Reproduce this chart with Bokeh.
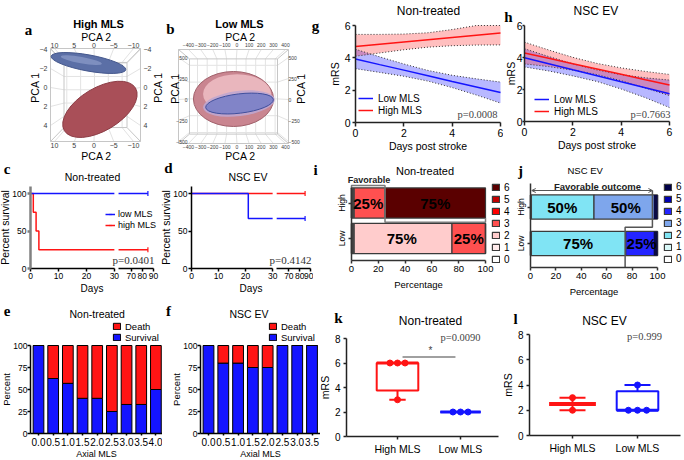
import math
from collections import Counter
import numpy as np
from bokeh.plotting import figure
from bokeh.layouts import column, row
from bokeh.models import (Range1d, LinearAxis, FixedTicker, Label, Legend, LegendItem,
                          ColumnDataSource, Arrow, OpenHead)
from bokeh.embed import file_html
from bokeh.resources import INLINE
from bokeh.core.properties import value

SANS = "Liberation Sans"
SERIF = "Liberation Serif"
NARROW = "Liberation Sans Narrow, Liberation Sans"

# ---------------- data ----------------
# a: PCA ellipsoids, High MLS  [blue group, red group]
a_xticks = [10, 5, 0, -5, -10]
a_yticks = [-4, -2, 0, 2, 4]
a_cx = [1.4, -1.5]
a_cy = [-2.58, 2.3]
a_w = [19.2, 21.0]
a_h = [1.7, 4.5]
a_ang = [-0.18, 0.54]
# b: PCA ellipsoids, Low MLS  [red group, blue group]
b_xticks = [-400, -300, -200, -100, 0, 100, 200, 300, 400]
b_yticks = [-500, -250, 0, 250, 500]
b_cx = [-29, 21]
b_cy = [6, -48]
b_w = [661, 562]
b_h = [655, 230]
b_ang = [0.0, 0.12]

# c, d: Kaplan-Meier survival (percent)
km_ticks = [0, 10, 20, 30, 70, 80, 90]
c_low_days = [0, 85]
c_low_surv = [100, 100]
c_high_days = [0, 1, 2, 3, 85]
c_high_surv = [100, 75, 50, 25, 25]
d_low_days = [0, 21, 85]
d_low_surv = [100, 66.7, 66.7]
d_high_days = [0, 85]
d_high_surv = [100, 100]

# e, f: percent survival by axial MLS
e_mls = ["0.0", "0.5", "1.0", "1.5", "2.0", "2.5", "3.0", "3.5", "4.0"]
e_surv = [100, 62.5, 57, 40, 40, 25, 33, 33, 50]
f_mls = ["0.0", "0.5", "1.0", "1.5", "2.0", "2.5", "3.0", "3.5"]
f_surv = [100, 80, 80, 75, 75, 100, 100, 100]

# g, h: mRS regression lines with 95% bands (visible part)
days = [0, 1, 2, 3, 4, 5, 6]
g_low = [3.93, 3.58, 3.24, 2.89, 2.54, 2.20, 1.85]
g_low_up = [4.53, 4.06, 3.62, 3.22, 2.92, 2.70, 2.50]
g_low_lo = [3.33, 3.10, 2.86, 2.56, 2.16, 1.70, 1.20]
g_high = [4.70, 4.84, 4.98, 5.12, 5.26, 5.40, 5.53]
g_high_up = [5.45, 5.45, 5.47, 5.55, 5.75, 6.0, 6.0]
g_high_lo = [4.10, 4.30, 4.50, 4.66, 4.75, 4.79, 4.80]
h_low = [3.98, 3.61, 3.23, 2.86, 2.48, 2.11, 1.73]
h_low_up = [4.55, 4.06, 3.61, 3.22, 2.93, 2.73, 2.59]
h_low_lo = [3.41, 3.16, 2.85, 2.50, 2.03, 1.49, 0.87]
h_high = [4.28, 3.95, 3.61, 3.28, 2.95, 2.61, 2.28]
h_high_up = [4.96, 4.47, 4.01, 3.63, 3.35, 3.13, 2.94]
h_high_lo = [3.60, 3.43, 3.21, 2.93, 2.55, 2.09, 1.62]

# i, j: mRS distribution (percent for mRS 0..6)
mrs_levels = ["0", "1", "2", "3", "4", "5", "6"]
i_high = [0, 0, 0, 25, 0, 0, 75]
i_low = [0, 0, 75, 25, 0, 0, 0]
j_high = [0, 0, 50, 50, 0, 0, 0]
j_low = [0, 0, 75, 0, 25, 0, 0]
i_colors = ["#ffffff", "#ffecec", "#ffcccc", "#ff5050", "#ff0000", "#c00000", "#5a0000"]
j_colors = ["#ffffff", "#d8f8f8", "#80e4f4", "#7ea6ec", "#2424ff", "#0000b0", "#000048"]

# k, l: mRS values per group
k_high = [6, 6, 6, 3]
k_low = [2, 2, 2]
l_high = [3, 2]
l_low = [2, 2, 2, 4]

BLUE = "#1414ff"
RED = "#ff1414"


# ---------------- layout helpers ----------------
class Panel:
    """Maps reference-picture pixel positions to this figure's data space."""

    def __init__(self, offx, offy, W, H, xa, ya):
        self.offx, self.offy, self.W, self.H = offx, offy, W, H
        d1, r1, d2, r2 = xa
        p1, p2 = self.px(r1), self.px(r2)
        self.kx = (d2 - d1) / (p2 - p1)
        self.x0 = d1 - p1 * self.kx
        d1, r1, d2, r2 = ya
        q1, q2 = self.py(r1), self.py(r2)
        self.ky = (d2 - d1) / (q2 - q1)
        self.y0 = d1 - q1 * self.ky

    def px(self, xref):
        return xref - self.offx

    def py(self, yref):
        return yref - self.offy

    def dx(self, xref):
        return self.x0 + self.px(xref) * self.kx

    def dy(self, yref):
        return self.y0 + self.py(yref) * self.ky

    def fig(self):
        p = figure(width=self.W, height=self.H,
                   x_range=Range1d(self.x0, self.x0 + self.W * self.kx),
                   y_range=Range1d(self.y0 + self.H * self.ky, self.y0),
                   output_backend="svg", toolbar_location=None,
                   x_axis_type=None, y_axis_type=None, min_border=0)
        p.outline_line_color = None
        p.background_fill_color = "white"
        p.border_fill_color = "white"
        if p.title is not None:
            p.title.visible = False
        return p

    def text(self, p, s, xref, yref, size, font=SANS, bold=False, align="center",
             baseline="middle", color="black", angle=0.0):
        p.add_layout(Label(x=self.px(xref), y=self.H - self.py(yref), x_units="screen",
                           y_units="screen", text=s, text_font=font,
                           text_font_style="bold" if bold else "normal",
                           text_font_size=size, text_align=align, text_baseline=baseline,
                           text_color=color, angle=angle))

    def legend_at(self, lg, xref_left, yref_first, n, lh, spacing=0):
        top = self.py(yref_first) - lh / 2
        bottom = top + n * lh + (n - 1) * spacing
        lg.location = (self.px(xref_left), self.H - bottom)


def letter(P, p, ch, xref, yref):
    P.text(p, ch, xref, yref, "15px", font=SERIF, bold=True)


def axis(p, side, loc, bounds, ticks, label=None, overrides=None, tick_size="10px",
         label_size="10px", color="black", lw=1.5, tick_out=4, standoff=2, lstandoff=2,
         line=True):
    ax = LinearAxis(fixed_location=loc, ticker=FixedTicker(ticks=list(ticks)))
    if bounds is not None:
        ax.bounds = bounds
    if overrides:
        ax.major_label_overrides = overrides
    if label:
        ax.axis_label = label
    ax.axis_line_color = color if line else None
    ax.axis_line_width = lw
    ax.major_tick_line_color = color
    ax.major_tick_line_width = lw
    ax.major_tick_out = tick_out
    ax.major_tick_in = 0
    ax.minor_tick_line_color = None
    ax.major_label_text_font = SANS
    ax.major_label_text_font_size = tick_size
    ax.major_label_text_color = "black"
    ax.axis_label_text_font = SANS
    ax.axis_label_text_font_size = label_size
    ax.axis_label_text_font_style = "normal"
    ax.axis_label_text_color = "black"
    ax.major_label_standoff = standoff
    ax.axis_label_standoff = lstandoff
    p.add_layout(ax, side)
    return ax


def legend_box(items, size="10px", gw=9, gh=8, lh=9, standoff=4, spacing=0):
    lg = Legend(items=items)
    lg.border_line_color = None
    lg.background_fill_alpha = 0
    lg.padding = 0
    lg.margin = 0
    lg.spacing = spacing
    lg.glyph_width = gw
    lg.glyph_height = gh
    lg.label_height = lh
    lg.label_standoff = standoff
    lg.label_text_font = SANS
    lg.label_text_font_size = size
    lg.label_text_color = "black"
    return lg


# ---------------- a, b: PCA views ----------------
def pca_axes(p, P, xticks, yticks, top_ref, bot_ref, left_ref, right_ref, tick_size, lab_pos):
    made = [
        axis(p, "above", P.dy(top_ref), None, xticks, tick_size=tick_size, tick_out=0,
             standoff=0),
        axis(p, "below", P.dy(bot_ref), None, xticks, tick_size=tick_size, tick_out=0,
             standoff=0),
        axis(p, "left", P.dx(left_ref), None, yticks, tick_size=tick_size, tick_out=0,
             standoff=0),
        axis(p, "right", P.dx(right_ref), None, yticks, tick_size=tick_size, tick_out=0,
             standoff=0),
    ]
    for ax in made:
        ax.axis_line_color = None
        ax.major_tick_line_color = None
        ax.major_label_text_color = "#3c3c3c"
    (tx, ty), (bx_, by_), (lx, ly), (rx, ry) = lab_pos
    P.text(p, "PCA 2", tx, ty, "10.5px")
    P.text(p, "PCA 2", bx_, by_, "10.5px")
    P.text(p, "PCA 1", lx, ly, "10.5px", angle=math.pi / 2)
    P.text(p, "PCA 1", rx, ry, "10.5px", angle=math.pi / 2)


def pca_box(p, P, xticks, yticks, xl, xr_, yt, yb, shrink):
    X0, X1, Y0, Y1 = P.dx(xl), P.dx(xr_), P.dy(yt), P.dy(yb)
    cx, cy = (X0 + X1) / 2, (Y0 + Y1) / 2

    def sx(v):
        return cx + shrink * (v - cx)

    def sy(v):
        return cy + shrink * (v - cy)

    g = dict(line_color="#e3e3e3", line_width=1)
    xi0, xi1, yi0, yi1 = sx(X0), sx(X1), sy(Y0), sy(Y1)
    bx = [sx(t) for t in xticks]
    by = [sy(t) for t in yticks]
    p.segment(x0=bx, y0=yi0, x1=bx, y1=yi1, **g)
    p.segment(x0=xi0, y0=by, x1=xi1, y1=by, **g)
    p.segment(x0=xticks, y0=Y0, x1=bx, y1=yi0, **g)
    p.segment(x0=xticks, y0=Y1, x1=bx, y1=yi1, **g)
    p.segment(x0=X0, y0=yticks, x1=xi0, y1=by, **g)
    p.segment(x0=X1, y0=yticks, x1=xi1, y1=by, **g)
    e = dict(line_color="#c6c6c6", line_width=1)
    p.segment(x0=[X0, X1, X0, X1], y0=[Y0, Y0, Y1, Y1], x1=[xi0, xi1, xi0, xi1],
              y1=[yi0, yi0, yi1, yi1], **e)
    p.quad(left=xi0, right=xi1, bottom=yi1, top=yi0, fill_color=None, **e)
    p.quad(left=X0, right=X1, bottom=Y1, top=Y0, fill_color=None, **e)


A = Panel(0, 0, 165, 162, (10, 54, -10, 133), (-4, 49, 4, 125))
pa = A.fig()
pca_box(pa, A, a_xticks, a_yticks, 50, 140, 48, 141, 0.7)
pa.ellipse(x=a_cx, y=a_cy, width=a_w, height=a_h, angle=a_ang,
           fill_color=["#5b6fa6", "#a94f58"], line_color=["#44578c", "#8c3c45"], line_width=1)
pa.ellipse(x=[a_cx[0] + 1.8], y=[a_cy[0] - 0.3], width=[a_w[0] * 0.55],
           height=[a_h[0] * 0.4], angle=[a_ang[0]], fill_color="#8d9dcb", line_color=None,
           fill_alpha=0.7)
pca_axes(pa, A, a_xticks, a_yticks, 47, 142, 47, 143, "7px",
         [(96, 36), (96, 155), (34, 87), (157.5, 87)])
A.text(pa, "High MLS", 98, 23, "11px", bold=True)
letter(A, pa, "a", 28, 29)

B = Panel(165, 0, 145, 162, (-400, 188, 400, 285), (500, 57, -500, 141))
pb = B.fig()
pca_box(pb, B, b_xticks, b_yticks, 178, 288, 49, 143, 0.8)
pb.ellipse(x=[b_cx[0]], y=[b_cy[0]], width=[b_w[0]], height=[b_h[0]], angle=[b_ang[0]],
           fill_color="#c98590", line_color="#a0606a", line_width=1)
pb.ellipse(x=[b_cx[0] + 30], y=[b_cy[0] + 60], width=[b_w[0] * 0.85],
           height=[b_h[0] * 0.72], angle=[b_ang[0]], fill_color="#e9b6bd", line_color=None)
pb.ellipse(x=[b_cx[1] - 5], y=[b_cy[1]], width=[b_w[1] * 1.06], height=[b_h[1] * 1.3],
           angle=[b_ang[1]], fill_color="#bfa6cf", line_color=None, fill_alpha=0.9)
pb.ellipse(x=[b_cx[1]], y=[b_cy[1]], width=[b_w[1]], height=[b_h[1]], angle=[b_ang[1]],
           fill_color="#7a80c8", line_color="#3f4f9c", line_width=1, fill_alpha=0.9)
pca_axes(pb, B, b_xticks, b_yticks, 46, 144.5, 187, 288, "5px",
         [(240, 36), (240, 155), (174, 88), (300, 88)])
B.text(pb, "Low MLS", 239, 23, "11px", bold=True)
letter(B, pb, "b", 170, 28)

# ---------------- c, d: Kaplan-Meier with broken x axis ----------------
KM_SPLIT, KM_RESUME, KM_T70, KM_K = 30, 58.75, 36.0, 0.4


def t_km(x):
    return x if x <= KM_SPLIT else KM_T70 + (x - 70) * KM_K


def step_path(dd, ss):
    xs, ys = [dd[0]], [ss[0]]
    for i in range(1, len(dd)):
        xs.append(dd[i]); ys.append(ss[i - 1])
        if ss[i] != ss[i - 1]:
            xs.append(dd[i]); ys.append(ss[i])
    return xs, ys


def clip(xs, ys, lo, hi):
    ox, oy = [], []
    for i in range(len(xs) - 1):
        x0, y0, x1, y1 = xs[i], ys[i], xs[i + 1], ys[i + 1]
        if x0 == x1:
            if lo <= x0 <= hi:
                ox += [x0, x1]; oy += [y0, y1]
        else:
            a, b = max(x0, lo), min(x1, hi)
            if a <= b:
                ox += [a, b]; oy += [y0, y1]
    return ox, oy


def km_draw(p, dd, ss, color):
    xs, ys = step_path(dd, ss)
    mx, my = [], []
    for lo, hi in [(0, KM_SPLIT), (KM_RESUME, 90)]:
        cx, cy = clip(xs, ys, lo, hi)
        if cx:
            mx.append([t_km(v) for v in cx]); my.append(cy)
    r = p.multi_line(xs=mx, ys=my, line_color=color, line_width=1.5)
    m = p.scatter(x=[t_km(dd[-1])], y=[ss[-1]], marker="dash", angle=math.pi / 2, size=5,
                  line_color=color, line_width=1.2)
    return [r, m]


def km_panel(P, ttl, title_xy, pval, p_xy, ycolor, lows, highs, leg):
    p = P.fig()
    tmax = t_km(km_ticks[-1])
    axis(p, "below", 0, (0, tmax), [t_km(v) for v in km_ticks], "Days",
         overrides={t_km(v): str(v) for v in km_ticks}, tick_size="8.5px", label_size="10px",
         tick_out=3, standoff=1, lstandoff=1, line=False)
    axis(p, "below", 0, (0, KM_SPLIT), [], tick_out=0)
    axis(p, "below", 0, (t_km(KM_RESUME), tmax), [], tick_out=0)
    axis(p, "left", 0, (0, 110), [0, 50, 100], "Percent survival", tick_size="8.5px",
         label_size="10.5px", color=ycolor, lw=2.5 if ycolor != "black" else 1.5,
         tick_out=3, standoff=1, lstandoff=-2)
    rh = km_draw(p, highs[0], highs[1], RED)
    rl = km_draw(p, lows[0], lows[1], BLUE)
    P.text(p, ttl, title_xy[0], title_xy[1], "10.5px")
    P.text(p, pval, p_xy[0], p_xy[1], "11px", font=SERIF, align="right", color="#333333")
    if leg:
        lg = legend_box([LegendItem(label="low MLS", renderers=rl),
                         LegendItem(label="high MLS", renderers=rh)],
                        size="9px", gw=10, gh=8, lh=10, standoff=3, spacing=1)
        P.legend_at(lg, leg[0], leg[1], 2, 10, 1)
        p.add_layout(lg)
    return p


C = Panel(0, 162, 160, 143, (0, 30, 44, 153), (100, 193, 0, 268))
pc = km_panel(C, "Non-treated", (92, 176), "p=0.0401", (154, 259), "#808080",
              (c_low_days, c_low_surv), (c_high_days, c_high_surv), (105, 214))
letter(C, pc, "c", 6.5, 168)

D = Panel(160, 162, 153, 143, (0, 191, 44, 310), (100, 193, 0, 268))
pd_ = km_panel(D, "NSC  EV", (249, 176), "p=0.4142", (311, 259), "black",
               (d_low_days, d_low_surv), (d_high_days, d_high_surv), None)
letter(D, pd_, "d", 168, 167)


# ---------------- e, f: stacked survival bars ----------------
def surv_panel(P, ttl, title_xy, cats, surv, yax_ref, xend_ref, leg_x):
    p = P.fig()
    idx = list(range(len(cats)))
    src = ColumnDataSource(dict(x=idx, surv=surv, death=[100 - s for s in surv]))
    rs = p.vbar_stack(["surv", "death"], x="x", width=0.73, fill_color=[BLUE, RED],
                      line_color="black", line_width=1, source=src)
    xa = P.dx(yax_ref)
    axis(p, "below", 0, (xa, P.dx(xend_ref)), idx, "Axial MLS",
         overrides={i: c for i, c in zip(idx, cats)}, tick_size="10px", label_size="9px",
         tick_out=2, standoff=2, lstandoff=0)
    axis(p, "left", xa, (0, 100), [0, 25, 50, 75, 100], "Percent", tick_size="8.5px",
         label_size="9.5px", tick_out=3, standoff=0, lstandoff=-2)
    P.text(p, ttl, title_xy[0], title_xy[1], "10.5px")
    lg = legend_box([LegendItem(label="Death", renderers=[rs[1]]),
                     LegendItem(label="Survival", renderers=[rs[0]])],
                    size="9.5px", gw=9, gh=8, lh=9, standoff=4)
    P.legend_at(lg, leg_x, 329, 2, 9)
    p.add_layout(lg)
    return p


E = Panel(0, 305, 162, 152, (0, 38, 8, 155.4), (100, 345, 0, 433))
pe = surv_panel(E, "Non-treated", (96.7, 313), e_mls, e_surv, 30, 162, 112)
letter(E, pe, "e", 6.5, 310)

F = Panel(162, 305, 158, 152, (0, 208, 7, 311.5), (100, 345, 0, 433))
pf = surv_panel(F, "NSC  EV", (250, 313), f_mls, f_surv, 200, 320, 268)
letter(F, pf, "f", 168, 310)


# ---------------- g, h: mRS regressions ----------------
def mrs_panel(P, ttl, title_xy, low, lup, llo, high, hup, hlo, pval, p_xy, leg, ytick_out,
              ystand, ylstand):
    p = P.fig()
    p.varea(x=days, y1=llo, y2=lup, fill_color="blue", fill_alpha=0.28)
    p.varea(x=days, y1=hlo, y2=hup, fill_color="red", fill_alpha=0.25)
    for arr in (lup, llo, hup, hlo):
        p.line(days, arr, line_color="#333333", line_width=1, line_dash="1 2")
    rl = p.line(days, low, line_color=BLUE, line_width=1.5)
    rh = p.line(days, high, line_color=RED, line_width=1.5)
    axis(p, "below", 0, (0, 6), [0, 2, 4, 6], "Days post stroke", tick_size="10.5px",
         label_size="10.5px", color="#222222", tick_out=4, standoff=2, lstandoff=0)
    axis(p, "left", 0, (0, 6), [0, 2, 4, 6], "mRS", tick_size="10.5px", label_size="10.5px",
         color="#222222", tick_out=ytick_out, standoff=ystand, lstandoff=ylstand)
    lg = legend_box([LegendItem(label="Low MLS", renderers=[rl]),
                     LegendItem(label="High MLS", renderers=[rh])],
                    size="10px", gw=15, gh=10, lh=12, standoff=5)
    P.legend_at(lg, leg[0], leg[1], 2, 12)
    p.add_layout(lg)
    P.text(p, ttl, title_xy[0], title_xy[1], "12px")
    P.text(p, pval, p_xy[0], p_xy[1], "10.5px", font=SERIF, align="right", color="#444444")
    return p


G = Panel(310, 0, 193, 162, (0, 355, 6, 500), (6, 25, 0, 122))
pg = mrs_panel(G, "Non-treated", (428, 10), g_low, g_low_up, g_low_lo, g_high, g_high_up,
               g_high_lo, "p=0.0008", (497, 114), (358, 98), 3, 2, 1)
letter(G, pg, "g", 315, 25)

HH = Panel(503, 0, 179, 162, (0, 524, 6, 669), (6, 25, 0, 121))
ph = mrs_panel(HH, "NSC  EV", (597, 10), h_low, h_low_up, h_low_lo, h_high, h_high_up,
               h_high_lo, "p=0.7663", (670, 114), (534, 99), 2, 0, -3)
letter(HH, ph, "h", 508, 16)


# ---------------- i, j: mRS distribution bars ----------------
def dist_panel(P, ttl, title_xy, tsize, high, low, colors, bar_h, xaxis_ref, ytop_ref,
               strip_l, strip_r, strip_r_color, leg_x, leg_y):
    p = P.fig()
    data = {f"m{k}": [high[k], low[k]] for k in range(7)}
    data["y"] = [2, 1]
    src = ColumnDataSource(data)
    rs = p.hbar_stack([f"m{k}" for k in range(7)], y="y", height=bar_h, fill_color=colors,
                      line_color="#3a3a3a", line_width=1.2, source=src)
    p.hbar(y=[2, 1], left=0, right=strip_l, height=bar_h, fill_color="#454545",
           line_color=None)
    if strip_r is not None:
        p.hbar(y=[2, 1], left=strip_r, right=100, height=bar_h, fill_color=strip_r_color,
               line_color=None)
    xs, ys, ts = [], [], []
    for vals, y in zip((high, low), (2, 1)):
        cum = 0
        for v in vals:
            if v > 0:
                xs.append(cum + v / 2); ys.append(y); ts.append(f"{v}%")
            cum += v
    p.text(x=xs, y=ys, text=ts, text_font=value(NARROW), text_font_style="bold",
           text_font_size="15px", text_align="center", text_baseline="middle",
           text_color="black")
    ybase = P.dy(xaxis_ref)
    axis(p, "below", ybase, (0, 100), [0, 20, 40, 60, 80, 100], "Percentage",
         tick_size="9.5px", label_size="9.5px", color="#333333", tick_out=3, standoff=2,
         lstandoff=4)
    ay = axis(p, "left", 0, (ybase, P.dy(ytop_ref)), [1, 2], None,
              overrides={1: "Low", 2: "High"}, tick_size="8.5px", color="#333333",
              tick_out=3, standoff=2)
    ay.major_label_orientation = "vertical"
    items = [LegendItem(label=mrs_levels[k], renderers=[rs[k]]) for k in range(6, -1, -1)]
    lg = legend_box(items, size="10px", gw=9, gh=8, lh=11, standoff=4, spacing=1)
    P.legend_at(lg, leg_x, leg_y, 7, 11, 1)
    p.add_layout(lg)
    P.text(p, ttl, title_xy[0], title_xy[1], tsize)
    return p


I = Panel(313, 162, 204, 143, (0, 351, 100, 485), (2, 202.5, 1, 238))
pi_ = dist_panel(I, "Non-treated", (424.5, 170), "11px", i_high, i_low, i_colors, 0.85,
                 260, 187, 2.5, None, None, 491, 187)
FAV_I = 25
yb_i, yt_i, ys_i = I.dy(185), I.dy(188.5), I.dy(221.7)
pi_.line([0, 0, FAV_I, FAV_I, 100, 100], [yt_i, yb_i, yb_i, ys_i, ys_i, 2 - 0.85 / 2],
         line_color="#7a7a7a", line_width=1.5)
I.text(pi_, "Favorable", 368.5, 179.5, "9px", font=NARROW, bold=True, color="#222222")
letter(I, pi_, "i", 315, 169)

J = Panel(517, 162, 165, 143, (0, 530, 100, 657), (2, 206.5, 1, 243))
pj = dist_panel(J, "NSC  EV", (586, 170), "9.5px", j_high, j_low, j_colors, 0.66,
                267, 183, 1.2, 97, "#0a0a45", 663, 186.7)
FAV_J_HIGH, FAV_J_LOW = 96, 74.5
yb_j, ys_j, y0_j = J.dy(190), J.dy(226.7), J.dy(267)
pj.line([FAV_J_HIGH, FAV_J_HIGH, FAV_J_LOW, FAV_J_LOW], [yb_j, ys_j, ys_j, y0_j],
        line_color="#555555", line_width=1.5)
pj.add_layout(Arrow(start=OpenHead(size=4, line_color="#555555", line_width=1),
                    end=OpenHead(size=4, line_color="#555555", line_width=1),
                    x_start=1, y_start=yb_j, x_end=FAV_J_HIGH, y_end=yb_j,
                    line_color="#555555", line_width=1))
J.text(pj, "Favorable outcome", 597, 185.7, "9.5px", font=NARROW, bold=True, color="#222222")
letter(J, pj, "j", 520, 170)


# ---------------- k, l: box plots ----------------
def box_group(p, xc, vals, color, hw, cap, spread, med_hw):
    v = np.array(vals, dtype=float)
    lo, hi = float(v.min()), float(v.max())
    med = float(np.median(v))
    if len(v) >= 3:
        q1, q3 = [float(q) for q in np.percentile(v, [25, 75], method="weibull")]
        p.quad(left=xc - hw, right=xc + hw, bottom=q1, top=q3, fill_color=None,
               line_color=color, line_width=2)
        p.segment(xc - hw, med, xc + hw, med, line_color=color, line_width=3)
    else:
        q1 = q3 = med
        p.segment(xc - med_hw, med, xc + med_hw, med, line_color=color, line_width=4)
    if lo < q1:
        p.segment(xc, lo, xc, q1, line_color=color, line_width=2)
        p.segment(xc - cap, lo, xc + cap, lo, line_color=color, line_width=2)
    if hi > q3:
        p.segment(xc, q3, xc, hi, line_color=color, line_width=2)
        p.segment(xc - cap, hi, xc + cap, hi, line_color=color, line_width=2)
    xs, ys = [], []
    for val, c in Counter(vals).items():
        for i in range(c):
            xs.append(xc + (i - (c - 1) / 2) * spread); ys.append(val)
    p.scatter(x=xs, y=ys, marker="circle", size=6, fill_color=color, line_color=color)


def box_panel(P, ttl, title_xy, high, low, cap, spread, pval, p_xy, yax_ref, xend_ref):
    p = P.fig()
    box_group(p, 1, high, RED, 0.33, cap, spread, 0.36)
    box_group(p, 2, low, BLUE, 0.32, cap, spread, 0.36)
    xa = P.dx(yax_ref)
    axis(p, "below", 0, (xa, P.dx(xend_ref)), [1, 2], None,
         overrides={1: "High MLS", 2: "Low MLS"}, tick_size="10.5px", color="#222222",
         tick_out=3, standoff=3)
    axis(p, "left", xa, (0, 8), [0, 2, 4, 6, 8], "mRS", tick_size="10px",
         label_size="10.5px", color="#222222", tick_out=3, standoff=3, lstandoff=1)
    P.text(p, ttl, title_xy[0], title_xy[1], "12px")
    P.text(p, pval, p_xy[0], p_xy[1], "10.5px", font=SERIF, color="#444444")
    return p


K = Panel(320, 305, 183, 152, (1, 397, 2, 460), (8, 338, 0, 436))
pk = box_panel(K, "Non-treated", (430, 320), k_high, k_low, 0.13, 0.12, "p=0.0090",
               (460, 337), 346, 498)
SIG_Y = 6.5
pk.segment(1.08, SIG_Y, 1.92, SIG_Y, line_color="#808080", line_width=1.5)
K.text(pk, "*", 430, 350, "10px", color="#444444")
letter(K, pk, "k", 338, 317)

LL = Panel(503, 305, 179, 152, (1, 572, 2, 637), (8, 334, 0, 435))
pl = box_panel(LL, "NSC EV", (604, 320), l_high, l_low, 0.2, 0.14, "p=0.999",
               (644, 336), 529, 680)
letter(LL, pl, "l", 515, 318)

layout = column(row(pa, pb, pg, ph), row(pc, pd_, pi_, pj), row(pe, pf, pk, pl))
open("out.html", "w").write(file_html(layout, INLINE))
